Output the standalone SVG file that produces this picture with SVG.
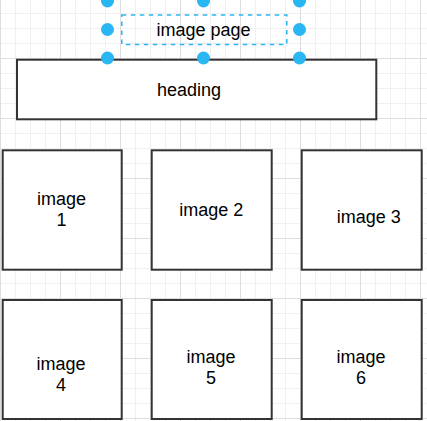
<svg xmlns="http://www.w3.org/2000/svg" width="427" height="421" viewBox="0 0 427 421">
  <defs>
    <pattern id="grid" x="0" y="-2" width="60" height="60" patternUnits="userSpaceOnUse">
      <path d="M15.5 0V60M30.5 0V60M45.5 0V60M0 15.5H60M0 30.5H60M0 45.5H60" stroke="#f0f0f0" stroke-width="1" fill="none"/>
      <path d="M0.5 0V60M0 0.5H60" stroke="#dedede" stroke-width="1" fill="none"/>
    </pattern>
  </defs>
  <style>
    .box { fill: #ffffff; stroke: #333333; stroke-width: 2; }
    .lbl { font-family: "Liberation Sans", Arial, sans-serif; font-size: 18px; fill: #000000; text-anchor: middle; }
    .sel { fill: none; stroke: #29b6f2; stroke-width: 1.5; stroke-dasharray: 4.5 4.5; }
    .handle { fill: #29b6f2; }
  </style>
  <rect x="0" y="0" width="427" height="421" fill="#ffffff"/>
  <rect x="0" y="0" width="427" height="421" fill="url(#grid)"/>

  <g id="connectors"></g>

  <g id="heading">
    <rect class="box" x="17" y="59.7" width="359.3" height="59.6"/>
    <text class="lbl" x="189" y="96">heading</text>
  </g>

  <g id="image1">
    <rect class="box" x="2.7" y="150.3" width="119" height="119.4"/>
    <text class="lbl" x="61.5" y="205">image</text>
    <text class="lbl" x="61.5" y="226">1</text>
  </g>
  <g id="image2">
    <rect class="box" x="151.7" y="150.3" width="120" height="119.4"/>
    <text class="lbl" x="211.3" y="216">image 2</text>
  </g>
  <g id="image3">
    <rect class="box" x="301.7" y="150.3" width="120" height="119.4"/>
    <text class="lbl" x="368.7" y="222.7">image 3</text>
  </g>
  <g id="image4">
    <rect class="box" x="2.7" y="300" width="119" height="119"/>
    <text class="lbl" x="61" y="370">image</text>
    <text class="lbl" x="61" y="391">4</text>
  </g>
  <g id="image5">
    <rect class="box" x="151.7" y="300" width="120" height="119"/>
    <text class="lbl" x="211" y="362.7">image</text>
    <text class="lbl" x="211" y="383.7">5</text>
  </g>
  <g id="image6">
    <rect class="box" x="301.7" y="300" width="120" height="119"/>
    <text class="lbl" x="361" y="362.7">image</text>
    <text class="lbl" x="361" y="383.7">6</text>
  </g>

  <g id="image-page">
    <rect class="sel" x="121.8" y="15" width="165" height="29.5"/>
    <text class="lbl" x="203.5" y="36">image page</text>
    <circle class="handle" cx="107.5" cy="1" r="6.5"/>
    <circle class="handle" cx="203.5" cy="1" r="6.5"/>
    <circle class="handle" cx="299.5" cy="1" r="6.5"/>
    <circle class="handle" cx="107.5" cy="29.5" r="6.5"/>
    <circle class="handle" cx="299.5" cy="29.5" r="6.5"/>
    <circle class="handle" cx="107.5" cy="58" r="6.5"/>
    <circle class="handle" cx="203.5" cy="58" r="6.5"/>
    <circle class="handle" cx="299.5" cy="58" r="6.5"/>
  </g>
</svg>
